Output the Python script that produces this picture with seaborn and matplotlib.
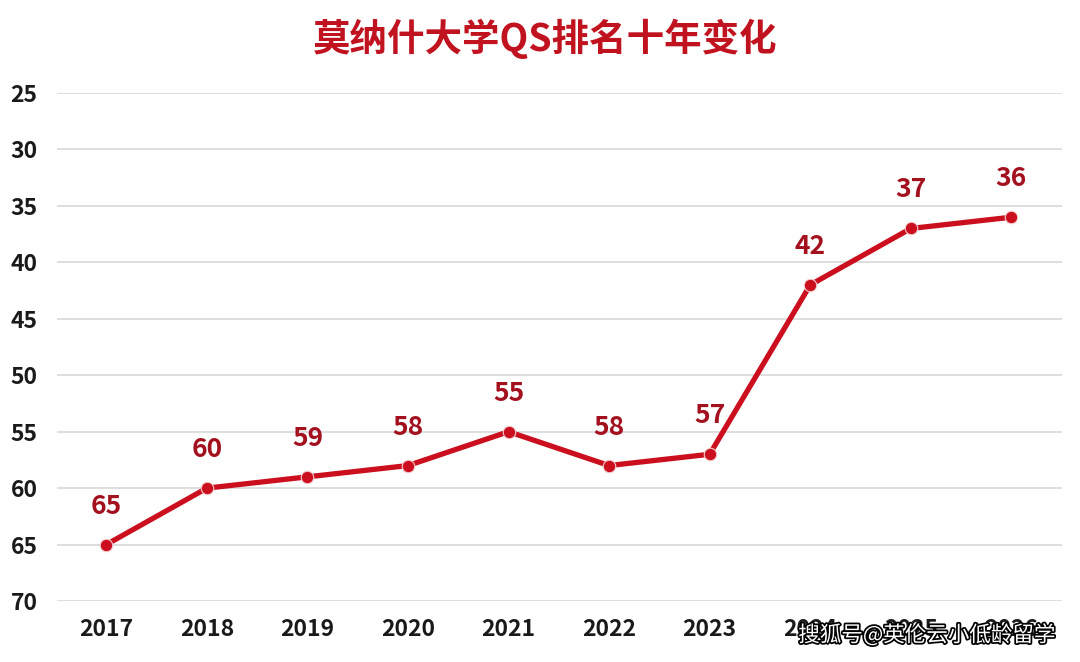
import seaborn as sns
import matplotlib.pyplot as plt
import matplotlib.patheffects as pe
import pandas as pd

years = ["2017", "2018", "2019", "2020", "2021", "2022", "2023", "2024", "2025", "2026"]
ranks = [65, 60, 59, 58, 55, 58, 57, 42, 37, 36]
y_ticks = [25, 30, 35, 40, 45, 50, 55, 60, 65, 70]

sns.set_theme(style="white")
plt.rcParams['font.family'] = ['Noto Sans CJK SC', 'DejaVu Sans']

df = pd.DataFrame({"year": years, "rank": ranks})
df["pos"] = range(len(df))

fig = plt.figure(figsize=(10.8, 6.62), dpi=100)
ax = fig.add_axes([0.0528, 0.0921, 0.9302, 0.7674])

sns.lineplot(data=df, x="pos", y="rank", ax=ax, color="#cc0f1f", linewidth=3.8,
             marker="o", markersize=9, markeredgecolor="#f3d0d0", markeredgewidth=0.8)

# labels above each point
for _, row in df.iterrows():
    ax.annotate(str(row["rank"]), (row["pos"], row["rank"]), xytext=(0, 18),
                textcoords="offset points", ha="center", va="bottom",
                fontsize=19, fontweight="bold", color="#a3111f")

ax.set_ylim(70, 25)
ax.set_xlim(-0.49, len(years) - 0.5)
ax.set_yticks(y_ticks)
ax.set_yticklabels([str(t) for t in y_ticks])
ax.set_xticks(df["pos"])
ax.set_xticklabels(years)
ax.tick_params(axis="both", length=0, labelsize=16.5)
ax.tick_params(axis="y", pad=14)
ax.tick_params(axis="x", pad=12)
for lab in ax.get_xticklabels() + ax.get_yticklabels():
    lab.set_fontweight("bold")
    lab.set_color("#1a1a1a")
ax.yaxis.grid(True, color="#dedede", linewidth=1.4)
ax.set_axisbelow(True)
ax.set_xlabel("")
ax.set_ylabel("")
sns.despine(ax=ax, left=True, bottom=True)

fig.text(0.505, 0.942, "莫纳什大学QS排名十年变化", ha="center", va="center",
         fontsize=27, fontweight="bold", color="#c0121f")

# watermark
fig.text(0.977, 0.04, "搜狐号@英伦云小低龄留学", ha="right", va="center",
         fontsize=15.5, color="white",
         path_effects=[pe.withStroke(linewidth=2.5, foreground="black")])

plt.savefig("out.png", dpi=100)
